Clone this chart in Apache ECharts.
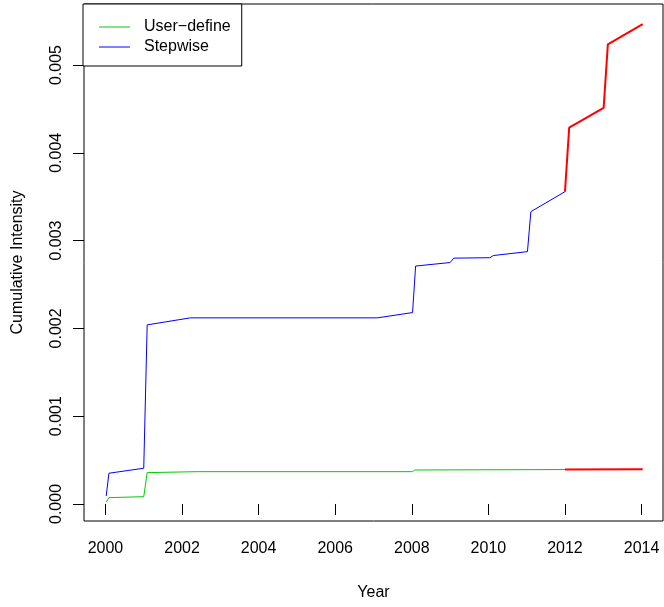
<!DOCTYPE html>
<html>
<head>
<meta charset="utf-8">
<script src="https://cdn.jsdelivr.net/npm/echarts@6/dist/echarts.min.js"></script>
<style>
  html, body { margin: 0; padding: 0; background: #fff; }
  #chart { width: 664px; height: 607px; }
</style>
</head>
<body>
<div id="chart"></div>
<script>
// tick labels
const yearTicks = [2000, 2002, 2004, 2006, 2008, 2010, 2012, 2014];
const intensityTicks = [0, 0.001, 0.002, 0.003, 0.004, 0.005];

// User-define curve (fitted part, then forecast part in red)
const userYears = [2000.02, 2000.09, 2001.0, 2001.09, 2002.4, 2008.02, 2008.08, 2012.0];
const userValues = [0.00002, 0.000072, 0.000083, 0.000357, 0.000368, 0.000368, 0.000387, 0.000392];
const userForecastYears = [2012.0, 2014.03];
const userForecastValues = [0.000392, 0.000395];

// Stepwise curve
const stepYears = [2000.02, 2000.09, 2001.0, 2001.09, 2002.22, 2007.1, 2008.02, 2008.1,
    2009.0, 2009.1, 2010.04, 2010.13, 2011.02, 2011.11, 2012.0];
const stepValues = [0.000091, 0.00035, 0.000407, 0.00204, 0.00212, 0.00212, 0.00218, 0.00271,
    0.00275, 0.0028, 0.002805, 0.00283, 0.002874, 0.00333, 0.003557];
const stepForecastYears = [2012.0, 2012.11, 2013.01, 2013.12, 2014.03];
const stepForecastValues = [0.003557, 0.004286, 0.004513, 0.005235, 0.005467];

function pairs(xs, ys) {
    return xs.map((x, i) => [x, ys[i]]);
}

const font = 'Liberation Sans, Arial, sans-serif';
let chart = echarts.init(document.getElementById('chart'));
let option = {
    animation: false,
    textStyle: {fontFamily: font},
    grid: {
        left: 84, right: 1, top: 4, bottom: 86,
        show: true, borderColor: '#000', borderWidth: 1, backgroundColor: '#fff'
    },
    legend: {
        show: true,
        left: 83, top: 4,
        orient: 'vertical',
        data: [
            {name: 'User\u2212define', itemStyle: {color: '#00CD00'}},
            {name: 'Stepwise', itemStyle: {color: '#0000FF'}}
        ],
        backgroundColor: '#fff',
        borderColor: '#000',
        borderWidth: 1,
        borderRadius: 0,
        padding: [13, 11, 9, 16],
        itemWidth: 31,
        itemHeight: 1,
        itemGap: 0,
        icon: 'rect',
        textStyle: {fontSize: 16, color: '#000', lineHeight: 20, padding: [0, 0, 0, 9], fontFamily: font}
    },
    xAxis: {
        type: 'value',
        min: 1999.44,
        max: 2014.56,
        name: 'Year',
        nameLocation: 'middle',
        nameGap: 64,
        nameTextStyle: {fontSize: 16, color: '#000'},
        axisLine: {show: false},
        splitLine: {show: false},
        axisTick: {show: true, length: 11, lineStyle: {color: '#000'}, customValues: yearTicks},
        axisLabel: {fontSize: 16, color: '#000', margin: 20, customValues: yearTicks, formatter: v => String(v)}
    },
    yAxis: {
        type: 'value',
        min: -0.000194,
        max: 0.005695,
        name: 'Cumulative Intensity',
        nameLocation: 'middle',
        nameGap: 58,
        nameTextStyle: {fontSize: 16, color: '#000'},
        axisLine: {show: false},
        splitLine: {show: false},
        axisTick: {show: true, length: 11, lineStyle: {color: '#000'}, customValues: intensityTicks},
        axisLabel: {fontSize: 16, color: '#000', margin: 19, rotate: 90,
            customValues: intensityTicks, formatter: v => v.toFixed(3)}
    },
    series: [
        {
            name: 'User\u2212define', type: 'line', symbol: 'none',
            data: pairs(userYears, userValues),
            lineStyle: {color: '#00CD00', width: 1}, itemStyle: {color: '#00CD00'}
        },
        {
            name: 'Stepwise', type: 'line', symbol: 'none',
            data: pairs(stepYears, stepValues),
            lineStyle: {color: '#0000FF', width: 1}, itemStyle: {color: '#0000FF'}
        },
        {
            name: 'userForecast', type: 'line', symbol: 'none',
            data: pairs(userForecastYears, userForecastValues),
            lineStyle: {color: '#FF0000', width: 2}
        },
        {
            name: 'stepForecast', type: 'line', symbol: 'none',
            data: pairs(stepForecastYears, stepForecastValues),
            lineStyle: {color: '#FF0000', width: 2}
        }
    ]
};
chart.setOption(option);
</script>
</body>
</html>
